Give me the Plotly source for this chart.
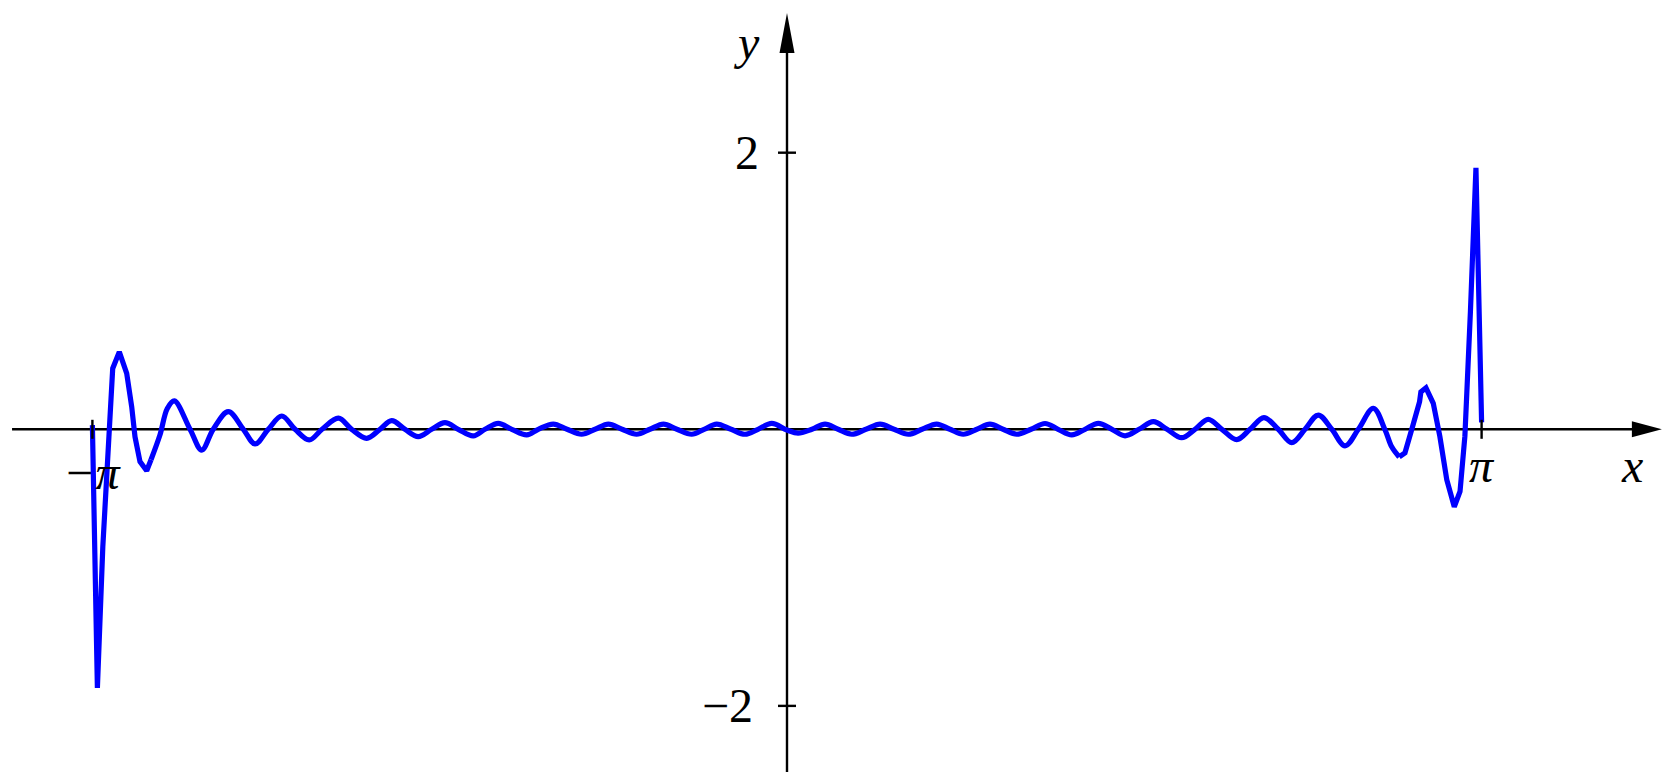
import plotly.graph_objects as go

PI = 3.14159

# curve near x = -pi (sharp samples, drawn with straight segments)
x_left = [-PI, -3.119, -3.0945, -3.0688, -3.0497, -3.0199, -2.9864, -2.9638,
          -2.9489, -2.9263, -2.896, -2.8765]
y_left = [0.03, -1.87, -0.85, 0.0, 0.44, 0.56, 0.405, 0.163,
          -0.054, -0.234, -0.30, -0.22]

# smooth ripples in the middle (peaks, zero crossings, troughs)
x_mid = [-2.8765, -2.8358, -2.8028, -2.771, -2.700, -2.647, -2.595, -2.527, -2.459, -2.406,
         -2.346, -2.285, -2.225, -2.161, -2.103, -2.029, -1.969, -1.901, -1.841, -1.788,
         -1.728, -1.668, -1.607, -1.547, -1.487, -1.419, -1.366, -1.306, -1.245, -1.177,
         -1.125, -1.057, -0.995, -0.929, -0.868, -0.808, -0.746, -0.680, -0.620, -0.559,
         -0.498, -0.431, -0.375, -0.318, -0.253, -0.190, -0.131, -0.069, 0.0, 0.050,
         0.113, 0.172, 0.231, 0.293, 0.357, 0.421, 0.484, 0.549, 0.611, 0.677,
         0.737, 0.797, 0.859, 0.918, 0.977, 1.039, 1.104, 1.167, 1.226, 1.288,
         1.348, 1.408, 1.470, 1.529, 1.592, 1.657, 1.719, 1.785, 1.845, 1.905,
         1.967, 2.034, 2.094, 2.157, 2.222, 2.283, 2.343, 2.403, 2.464, 2.524,
         2.584, 2.652, 2.705, 2.735, 2.769]
y_mid = [-0.22, -0.04, 0.15, 0.205, 0.0, -0.15, 0.0, 0.127, 0.0, -0.106,
         0.0, 0.096, 0.0, -0.077, 0.0, 0.08, 0.0, -0.065, 0.0, 0.062,
         0.0, -0.053, 0.0, 0.048, 0.0, -0.048, 0.0, 0.043, 0.0, -0.041,
         0.0, 0.038, 0.0, -0.036, 0.0, 0.038, 0.0, -0.036, 0.0, 0.038,
         0.0, -0.036, 0.0, 0.038, 0.0, -0.036, 0.0, 0.043, -0.005, -0.028,
         0.0, 0.038, 0.0, -0.036, 0.0, 0.038, 0.0, -0.036, 0.0, 0.038,
         0.0, -0.036, 0.0, 0.038, 0.0, -0.036, 0.0, 0.042, 0.0, -0.041,
         0.0, 0.043, 0.0, -0.047, 0.0, 0.055, 0.0, -0.061, 0.0, 0.072,
         0.0, -0.075, 0.0, 0.085, 0.0, -0.097, 0.0, 0.103, 0.0, -0.12,
         0.0, 0.152, -0.005, -0.127, -0.20]

# curve near x = pi
x_right = [2.769, 2.795, 2.833, 2.861, 2.867, 2.890,
           2.923, 2.953, 2.984, 3.018, 3.044, 3.066, 3.091, 3.116, PI]
y_right = [-0.20, -0.17, 0.04, 0.20, 0.27, 0.30,
           0.188, -0.054, -0.365, -0.56, -0.45, -0.05, 0.85, 1.89, 0.05]

x_ticks = [-PI, PI]
x_tick_text = ["\u2212\u03c0", "\u03c0"]
y_ticks = [2, -2]
y_tick_text = ["2", "\u22122"]

blue = "#0000ff"
lw = 5.2
fig = go.Figure()
fig.add_trace(go.Scatter(x=x_left, y=y_left, mode="lines",
                         line=dict(color=blue, width=lw)))
fig.add_trace(go.Scatter(x=x_mid, y=y_mid, mode="lines",
                         line=dict(color=blue, width=lw, shape="spline", smoothing=1)))
fig.add_trace(go.Scatter(x=x_right, y=y_right, mode="lines",
                         line=dict(color=blue, width=lw)))

ax = dict(color="black", width=2.4)
shapes = [
    # axis lines
    dict(type="line", x0=-3.505, x1=3.85, y0=0, y1=0, line=ax, layer="below"),
    dict(type="line", x0=0, x1=0, y0=-2.6, y1=2.75, line=ax, layer="below"),
    # arrow heads
    dict(type="path", xsizemode="pixel", ysizemode="pixel", xanchor=3.957, yanchor=0,
         path="M0,0 L-30,8 L-30,-8 Z", fillcolor="black", line=dict(width=0)),
    dict(type="path", xsizemode="pixel", ysizemode="pixel", xanchor=0, yanchor=3.01,
         path="M0,0 L-7.5,-40 L7.5,-40 Z", fillcolor="black", line=dict(width=0)),
]
for xv in x_ticks:
    shapes.append(dict(type="line", x0=xv, x1=xv, ysizemode="pixel", yanchor=0,
                       y0=-9.5, y1=9.5, line=ax))
for yv in y_ticks:
    shapes.append(dict(type="line", y0=yv, y1=yv, xsizemode="pixel", xanchor=0,
                       x0=-9, x1=9, line=ax))

font = dict(family="Liberation Serif", size=48, color="black")
ann = []
for xv, txt, yy in zip(x_ticks, x_tick_text, [-0.316, -0.265]):
    ann.append(dict(x=xv, y=yy, text="<i>" + txt + "</i>", showarrow=False, font=font))
for yv, txt, xx in zip(y_ticks, y_tick_text, [-0.179, -0.267]):
    ann.append(dict(x=xx, y=yv, text=txt, showarrow=False, font=font))
ann.append(dict(x=3.824, y=-0.265, text="<i>x</i>", showarrow=False, font=font))
ann.append(dict(x=-0.181, y=2.80, text="<i>y</i>", showarrow=False, font=font))

fig.update_layout(
    width=1662, height=772,
    margin=dict(l=0, r=0, t=0, b=0),
    paper_bgcolor="white", plot_bgcolor="white",
    showlegend=False,
    xaxis=dict(visible=False, range=[-3.5595, 3.9575]),
    yaxis=dict(visible=False, range=[-2.478, 3.104]),
    shapes=shapes, annotations=ann,
)

fig.write_html("out.html", config={"displayModeBar": False},
               post_script="document.body.style.margin='0';")
